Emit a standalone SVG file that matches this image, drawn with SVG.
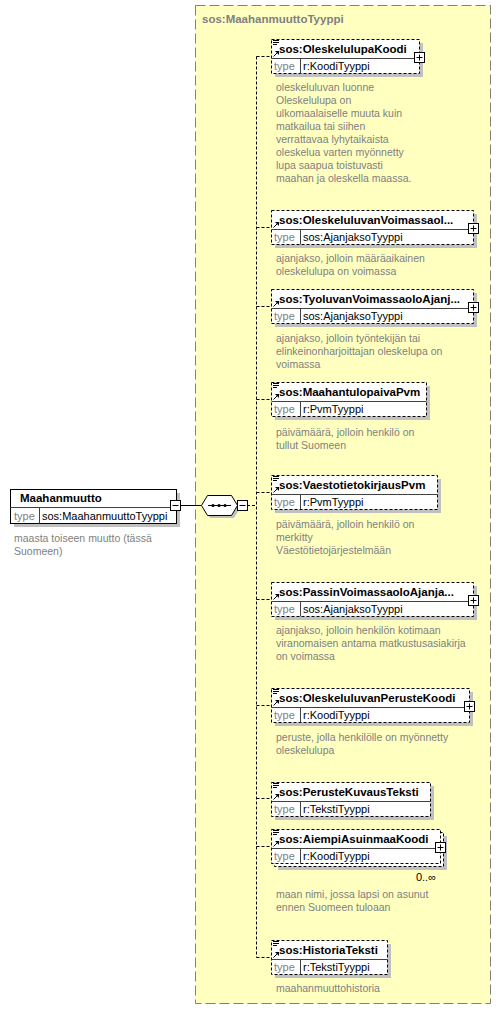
<svg xmlns="http://www.w3.org/2000/svg" width="501" height="1010" viewBox="0 0 501 1010">
<style>
.bg{fill:#ffffff}
.ct{fill:#ffffc0;stroke:#808080;stroke-width:1;stroke-dasharray:10,4}
.sh{fill:#c0c0c0}
.box{fill:#ffffff;stroke:#000;stroke-width:1;stroke-dasharray:3,2}
.sbox{fill:#ffffff;stroke:#000;stroke-width:1}
.dv{stroke:#404040;stroke-width:1}
.pb{fill:#ffffff;stroke:#000;stroke-width:1}
.pl{stroke:#000;stroke-width:1}
.cn{fill:none;stroke:#000;stroke-width:1;stroke-dasharray:3,2}
.sl{fill:none;stroke:#000;stroke-width:1}
.ic{stroke:#000;stroke-width:1}
text{font-family:"Liberation Sans",Arial,sans-serif}
.h{font-size:11.5px;font-weight:bold;fill:#000}
.t{font-size:11px;fill:#808080}
.v{font-size:11px;fill:#000}
.d{font-size:10.5px;fill:#808080}
.ti{font-size:11.5px;font-weight:bold;fill:#808080}
</style>
<defs>
<g id="eq"><line class="ic" x1="273" y1="1.5" x2="279" y2="1.5"/><line class="ic" x1="273" y1="3.5" x2="279" y2="3.5"/><line class="ic" x1="273" y1="5.5" x2="277" y2="5.5"/></g>
<g id="ar"><line class="ic" x1="273.5" y1="17.5" x2="277" y2="14"/><polygon points="275,12 279,12 279,16" fill="#000"/></g>
</defs>
<rect class="bg" x="0" y="0" width="501" height="1010"/>
<g id="container">
<rect class="ct" x="195.5" y="5.5" width="295" height="998"/>
<text class="ti" x="202" y="23">sos:MaahanmuuttoTyyppi</text>
</g>
<g id="connectors">
<line class="sl" x1="181" y1="505.5" x2="201" y2="505.5"/>
<line class="cn" x1="247" y1="505.5" x2="256.5" y2="505.5"/>
<line class="cn" x1="256.5" y1="56.5" x2="256.5" y2="957.5"/>
<line class="cn" x1="256.5" y1="56.5" x2="271" y2="56.5"/>
<line class="cn" x1="256.5" y1="227.5" x2="271" y2="227.5"/>
<line class="cn" x1="256.5" y1="306.5" x2="271" y2="306.5"/>
<line class="cn" x1="256.5" y1="399.5" x2="271" y2="399.5"/>
<line class="cn" x1="256.5" y1="492.5" x2="271" y2="492.5"/>
<line class="cn" x1="256.5" y1="599.5" x2="271" y2="599.5"/>
<line class="cn" x1="256.5" y1="705.5" x2="271" y2="705.5"/>
<line class="cn" x1="256.5" y1="798.5" x2="271" y2="798.5"/>
<line class="cn" x1="256.5" y1="846.5" x2="271" y2="846.5"/>
<line class="cn" x1="256.5" y1="957.5" x2="271" y2="957.5"/>
</g>
<g id="root">
<rect class="sh" x="14" y="493" width="166" height="34"/>
<rect class="sbox" x="10.5" y="489.5" width="166" height="34"/>
<line class="dv" x1="10.5" y1="507.5" x2="176.5" y2="507.5"/>
<line class="dv" x1="39.5" y1="507.5" x2="39.5" y2="523.5"/>
<text class="h" x="20" y="502">Maahanmuutto</text>
<text class="t" x="14" y="520">type</text>
<text class="v" x="42" y="520">sos:MaahanmuuttoTyyppi</text>
<rect class="pb" x="170.5" y="500.5" width="10" height="10"/>
<line class="pl" x1="172.5" y1="505.5" x2="178.5" y2="505.5"/>
<text class="d" x="14" y="542">maasta toiseen muutto (tässä</text>
<text class="d" x="14" y="555">Suomeen)</text>
</g>
<g id="sequence">
<polygon class="sh" points="204,508 210,499 234,499 240,508 234,518 210,518"/>
<polygon fill="#fff" stroke="#000" points="201.5,505.5 207.5,495.5 231.5,495.5 237.5,505.5 231.5,515.5 207.5,515.5"/>
<line class="pl" x1="208" y1="505.5" x2="231" y2="505.5"/>
<circle cx="213" cy="505.5" r="1.6"/><circle cx="219" cy="505.5" r="1.6"/><circle cx="225" cy="505.5" r="1.6"/>
<rect class="pb" x="237.5" y="500.5" width="10" height="10"/>
<line class="pl" x1="239.5" y1="505.5" x2="245.5" y2="505.5"/>
</g>
<g id="n1" transform="translate(0,39)">
<rect class="sh" x="275" y="4" width="148" height="34"/>
<rect class="box" x="271.5" y="0.5" width="148" height="34"/>
<line class="dv" x1="271.5" y1="19.5" x2="419.5" y2="19.5"/>
<line class="dv" x1="300.5" y1="19.5" x2="300.5" y2="34.5"/>
<use href="#eq"/><use href="#ar"/>
<text class="h" x="279" y="14">sos:OleskelulupaKoodi</text>
<text class="t" x="274" y="31">type</text>
<text class="v" x="303" y="31">r:KoodiTyyppi</text>
<rect class="pb" x="414.5" y="13.5" width="10" height="10"/>
<line class="pl" x1="416.5" y1="18.5" x2="422.5" y2="18.5"/><line class="pl" x1="419.5" y1="15.5" x2="419.5" y2="21.5"/>
<text class="d" x="276" y="52">oleskeluluvan luonne</text>
<text class="d" x="276" y="65">Oleskelulupa on</text>
<text class="d" x="276" y="78">ulkomaalaiselle muuta kuin</text>
<text class="d" x="276" y="91">matkailua tai siihen</text>
<text class="d" x="276" y="104">verrattavaa lyhytaikaista</text>
<text class="d" x="276" y="117">oleskelua varten myönnetty</text>
<text class="d" x="276" y="130">lupa saapua toistuvasti</text>
<text class="d" x="276" y="143">maahan ja oleskella maassa.</text>
</g>
<g id="n2" transform="translate(0,210)">
<rect class="sh" x="275" y="4" width="202" height="34"/>
<rect class="box" x="271.5" y="0.5" width="202" height="34"/>
<line class="dv" x1="271.5" y1="19.5" x2="473.5" y2="19.5"/>
<line class="dv" x1="300.5" y1="19.5" x2="300.5" y2="34.5"/>
<use href="#ar"/>
<text class="h" x="279" y="14">sos:OleskeluluvanVoimassaol...</text>
<text class="t" x="274" y="31">type</text>
<text class="v" x="303" y="31">sos:AjanjaksoTyyppi</text>
<rect class="pb" x="468.5" y="13.5" width="10" height="10"/>
<line class="pl" x1="470.5" y1="18.5" x2="476.5" y2="18.5"/><line class="pl" x1="473.5" y1="15.5" x2="473.5" y2="21.5"/>
<text class="d" x="276" y="52">ajanjakso, jolloin määräaikainen</text>
<text class="d" x="276" y="65">oleskelulupa on voimassa</text>
</g>
<g id="n3" transform="translate(0,289)">
<rect class="sh" x="275" y="4" width="202" height="34"/>
<rect class="box" x="271.5" y="0.5" width="202" height="34"/>
<line class="dv" x1="271.5" y1="19.5" x2="473.5" y2="19.5"/>
<line class="dv" x1="300.5" y1="19.5" x2="300.5" y2="34.5"/>
<use href="#ar"/>
<text class="h" x="279" y="14">sos:TyoluvanVoimassaoloAjanj...</text>
<text class="t" x="274" y="31">type</text>
<text class="v" x="303" y="31">sos:AjanjaksoTyyppi</text>
<rect class="pb" x="468.5" y="13.5" width="10" height="10"/>
<line class="pl" x1="470.5" y1="18.5" x2="476.5" y2="18.5"/><line class="pl" x1="473.5" y1="15.5" x2="473.5" y2="21.5"/>
<text class="d" x="276" y="53">ajanjakso, jolloin työntekijän tai</text>
<text class="d" x="276" y="66">elinkeinonharjoittajan oleskelupa on</text>
<text class="d" x="276" y="79">voimassa</text>
</g>
<g id="n4" transform="translate(0,382)">
<rect class="sh" x="275" y="4" width="155" height="34"/>
<rect class="box" x="271.5" y="0.5" width="155" height="34"/>
<line class="dv" x1="271.5" y1="19.5" x2="426.5" y2="19.5"/>
<line class="dv" x1="300.5" y1="19.5" x2="300.5" y2="34.5"/>
<use href="#eq"/><use href="#ar"/>
<text class="h" x="279" y="14">sos:MaahantulopaivaPvm</text>
<text class="t" x="274" y="31">type</text>
<text class="v" x="303" y="31">r:PvmTyyppi</text>
<text class="d" x="276" y="54">päivämäärä, jolloin henkilö on</text>
<text class="d" x="276" y="67">tullut Suomeen</text>
</g>
<g id="n5" transform="translate(0,475)">
<rect class="sh" x="275" y="4" width="166" height="34"/>
<rect class="box" x="271.5" y="0.5" width="166" height="34"/>
<line class="dv" x1="271.5" y1="19.5" x2="437.5" y2="19.5"/>
<line class="dv" x1="300.5" y1="19.5" x2="300.5" y2="34.5"/>
<use href="#eq"/><use href="#ar"/>
<text class="h" x="279" y="14">sos:VaestotietokirjausPvm</text>
<text class="t" x="274" y="31">type</text>
<text class="v" x="303" y="31">r:PvmTyyppi</text>
<text class="d" x="276" y="53">päivämäärä, jolloin henkilö on</text>
<text class="d" x="276" y="66">merkitty</text>
<text class="d" x="276" y="79">Väestötietojärjestelmään</text>
</g>
<g id="n6" transform="translate(0,582)">
<rect class="sh" x="275" y="4" width="202" height="34"/>
<rect class="box" x="271.5" y="0.5" width="202" height="34"/>
<line class="dv" x1="271.5" y1="19.5" x2="473.5" y2="19.5"/>
<line class="dv" x1="300.5" y1="19.5" x2="300.5" y2="34.5"/>
<use href="#ar"/>
<text class="h" x="279" y="14">sos:PassinVoimassaoloAjanja...</text>
<text class="t" x="274" y="31">type</text>
<text class="v" x="303" y="31">sos:AjanjaksoTyyppi</text>
<rect class="pb" x="468.5" y="13.5" width="10" height="10"/>
<line class="pl" x1="470.5" y1="18.5" x2="476.5" y2="18.5"/><line class="pl" x1="473.5" y1="15.5" x2="473.5" y2="21.5"/>
<text class="d" x="276" y="52">ajanjakso, jolloin henkilön kotimaan</text>
<text class="d" x="276" y="65">viranomaisen antama matkustusasiakirja</text>
<text class="d" x="276" y="78">on voimassa</text>
</g>
<g id="n7" transform="translate(0,688)">
<rect class="sh" x="275" y="4" width="198" height="34"/>
<rect class="box" x="271.5" y="0.5" width="198" height="34"/>
<line class="dv" x1="271.5" y1="19.5" x2="469.5" y2="19.5"/>
<line class="dv" x1="300.5" y1="19.5" x2="300.5" y2="34.5"/>
<use href="#eq"/><use href="#ar"/>
<text class="h" x="279" y="14">sos:OleskeluluvanPerusteKoodi</text>
<text class="t" x="274" y="31">type</text>
<text class="v" x="303" y="31">r:KoodiTyyppi</text>
<rect class="pb" x="464.5" y="13.5" width="10" height="10"/>
<line class="pl" x1="466.5" y1="18.5" x2="472.5" y2="18.5"/><line class="pl" x1="469.5" y1="15.5" x2="469.5" y2="21.5"/>
<text class="d" x="276" y="53">peruste, jolla henkilölle on myönnetty</text>
<text class="d" x="276" y="66">oleskelulupa</text>
</g>
<g id="n8" transform="translate(0,782)">
<rect class="sh" x="275" y="4" width="159" height="34"/>
<rect class="box" x="271.5" y="0.5" width="159" height="34"/>
<line class="dv" x1="271.5" y1="19.5" x2="430.5" y2="19.5"/>
<line class="dv" x1="300.5" y1="19.5" x2="300.5" y2="34.5"/>
<use href="#eq"/><use href="#ar"/>
<text class="h" x="279" y="14">sos:PerusteKuvausTeksti</text>
<text class="t" x="274" y="31">type</text>
<text class="v" x="303" y="31">r:TekstiTyyppi</text>
</g>
<g id="n9" transform="translate(0,829)">
<rect class="sh" x="278" y="7" width="169" height="34"/>
<rect class="box" x="274.5" y="3.5" width="169" height="34"/>
<rect class="box" x="271.5" y="0.5" width="169" height="34"/>
<line class="dv" x1="271.5" y1="19.5" x2="440.5" y2="19.5"/>
<line class="dv" x1="300.5" y1="19.5" x2="300.5" y2="34.5"/>
<use href="#eq"/><use href="#ar"/>
<text class="h" x="279" y="14">sos:AiempiAsuinmaaKoodi</text>
<text class="t" x="274" y="31">type</text>
<text class="v" x="303" y="31">r:KoodiTyyppi</text>
<rect class="pb" x="435.5" y="13.5" width="10" height="10"/>
<line class="pl" x1="437.5" y1="18.5" x2="443.5" y2="18.5"/><line class="pl" x1="440.5" y1="15.5" x2="440.5" y2="21.5"/>
<text class="v" x="436" y="52" text-anchor="end">0..∞</text>
<text class="d" x="276" y="69">maan nimi, jossa lapsi on asunut</text>
<text class="d" x="276" y="82">ennen Suomeen tuloaan</text>
</g>
<g id="n10" transform="translate(0,940)">
<rect class="sh" x="275" y="4" width="116" height="34"/>
<rect class="box" x="271.5" y="0.5" width="116" height="34"/>
<line class="dv" x1="271.5" y1="19.5" x2="387.5" y2="19.5"/>
<line class="dv" x1="300.5" y1="19.5" x2="300.5" y2="34.5"/>
<use href="#eq"/><use href="#ar"/>
<text class="h" x="279" y="14">sos:HistoriaTeksti</text>
<text class="t" x="274" y="31">type</text>
<text class="v" x="303" y="31">r:TekstiTyyppi</text>
<text class="d" x="276" y="52">maahanmuuttohistoria</text>
</g>
</svg>
